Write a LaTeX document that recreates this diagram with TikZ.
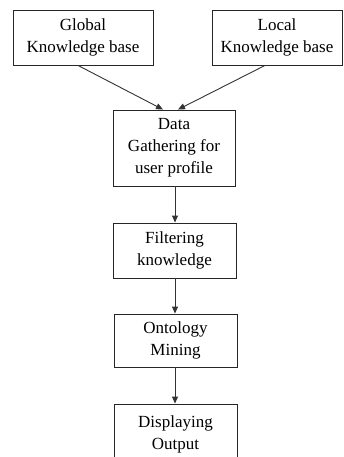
\documentclass[tikz,border=0pt]{standalone}
\usepackage{fontspec}
\setmainfont{Liberation Serif}
\usetikzlibrary{arrows.meta}
\begin{document}
\begin{tikzpicture}[x=1pt,y=1pt,
  box/.style={draw=black!85, line width=0.9pt, align=center, inner sep=0pt,
    font=\fontsize{17}{22}\selectfont},
  arr/.style={draw=black!80, line width=0.9pt, -{Triangle[width=6pt,length=7pt]}}]
\useasboundingbox (0,0) rectangle (343,-457);
\clip (0,0) rectangle (343,-457);
\node[box, minimum width=140, minimum height=55] (glob) at (83,-37.5) {Global\\Knowledge base};
\node[box, minimum width=130, minimum height=55] (loc) at (277,-37.5) {Local\\Knowledge base};
\node[box, minimum width=122, minimum height=76] (data) at (174,-148) {Data\\Gathering for\\user profile};
\node[box, minimum width=123, minimum height=55] (filt) at (174.5,-250.5) {Filtering\\knowledge};
\node[box, minimum width=123, minimum height=53] (onto) at (175.5,-340.5) {Ontology\\Mining};
\node[box, minimum width=123, minimum height=60] (disp) at (175.5,-434) {Displaying\\Output};
\draw[arr] ([xshift=-5pt]glob.south) -- ([xshift=-11pt]data.north);
\draw[arr] ([xshift=-12pt]loc.south) -- ([xshift=4pt]data.north);
\draw[arr] ([xshift=1pt]data.south) -- ([xshift=1pt]data.south |- filt.north);
\draw[arr] ([xshift=1pt]data.south |- filt.south) -- ([xshift=1pt]data.south |- onto.north);
\draw[arr] ([xshift=1pt]data.south |- onto.south) -- ([xshift=1pt]data.south |- disp.north);
\end{tikzpicture}
\end{document}
